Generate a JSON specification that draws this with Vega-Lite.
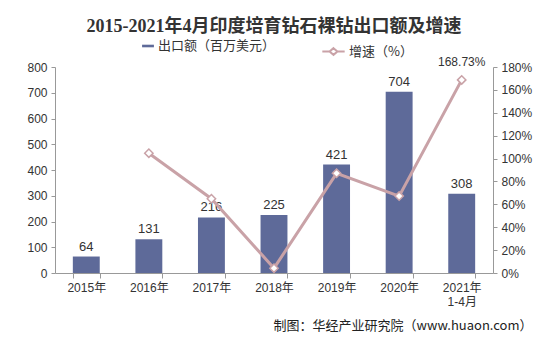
{
  "$schema": "https://vega.github.io/schema/vega-lite/v6.json",
  "autosize": {"type": "none"},
  "width": 438,
  "height": 206,
  "padding": {"left": 55, "top": 67, "right": 44, "bottom": 64},
  "background": "white",
  "title": {
    "text": "2015-2021年4月印度培育钻石裸钻出口额及增速",
    "font": "Liberation Serif, Noto Sans CJK SC",
    "fontSize": 18,
    "fontWeight": "bold",
    "color": "#333333",
    "anchor": "middle",
    "offset": 3
  },
  "config": {
    "view": {"stroke": null},
    "font": "Liberation Sans, Noto Sans CJK SC",
    "axis": {
      "labelFont": "Liberation Sans",
      "labelFontSize": 12,
      "labelColor": "#333333",
      "domainColor": "#999999",
      "tickColor": "#999999",
      "grid": false
    }
  },
  "data": {
    "values": [
      {"year": "2015年", "value": 64, "growth": null},
      {"year": "2016年", "value": 131, "growth": 104.7},
      {"year": "2017年", "value": 216, "growth": 64.9},
      {"year": "2018年", "value": 225, "growth": 4.2},
      {"year": "2019年", "value": 421, "growth": 87.1},
      {"year": "2020年", "value": 704, "growth": 67.2},
      {"year": "2021年 1-4月", "value": 308, "growth": 168.73}
    ]
  },
  "encoding": {
    "x": {
      "field": "year",
      "type": "nominal",
      "sort": null,
      "scale": {"paddingInner": 0.57, "paddingOuter": 0.285},
      "axis": {
        "labelAngle": 0,
        "labelFont": "Liberation Sans, Noto Sans CJK SC",
        "labelExpr": "split(datum.label, ' ')",
        "labelPadding": 4,
        "tickBand": "extent",
        "tickSize": 5,
        "title": "制图：华经产业研究院（www.huaon.com）",
        "titleFont": "Noto Sans CJK SC",
        "titleFontSize": 13,
        "titleFontWeight": "normal",
        "titleColor": "#222222",
        "titleAlign": "right",
        "titleBaseline": "alphabetic",
        "titleAnchor": null,
        "titleX": 477,
        "titleY": 56
      }
    }
  },
  "layer": [
    {
      "encoding": {
        "y": {
          "field": "value",
          "type": "quantitative",
          "scale": {"domain": [0, 800], "nice": false},
          "axis": {
            "values": [0, 100, 200, 300, 400, 500, 600, 700, 800],
            "labelOverlap": false,
            "labelSeparation": 0,
            "title": null,
            "tickSize": 4,
            "labelPadding": 4
          }
        }
      },
      "layer": [
        {
          "mark": {"type": "bar"},
          "encoding": {
            "fill": {
              "datum": "出口额（百万美元）",
              "type": "nominal",
              "scale": {"range": ["#5e6a99"]},
              "legend": {
                "orient": "none",
                "legendX": 86,
                "legendY": -28,
                "title": null,
                "symbolType": "M-1,-0.22L1,-0.22L1,0.22L-1,0.22Z",
                "symbolSize": 140,
                "labelFont": "Noto Sans CJK SC",
                "labelFontSize": 13,
                "labelColor": "#333333",
                "labelOffset": 3
              }
            }
          }
        },
        {
          "mark": {"type": "text", "dy": -10, "fontSize": 13, "color": "#333333", "font": "Liberation Sans"},
          "encoding": {
            "text": {"field": "value", "type": "quantitative"}
          }
        }
      ]
    },
    {
      "transform": [{"filter": "datum.growth != null"}],
      "encoding": {
        "y": {
          "field": "growth",
          "type": "quantitative",
          "scale": {"domain": [0, 180], "nice": false},
          "axis": {
            "orient": "right",
            "values": [0, 20, 40, 60, 80, 100, 120, 140, 160, 180],
            "labelOverlap": false,
            "labelSeparation": 0,
            "labelExpr": "datum.value + '%'",
            "title": null,
            "tickSize": 4,
            "labelPadding": 4
          }
        }
      },
      "layer": [
        {
          "mark": {"type": "line", "strokeWidth": 3},
          "encoding": {
            "stroke": {
              "datum": "增速（%）",
              "type": "nominal",
              "scale": {"range": ["#c9a2a7"]},
              "legend": {
                "orient": "none",
                "legendX": 266,
                "legendY": -28,
                "title": null,
                "symbolType": "M-1,0L-0.35,0M0.35,0L1,0M0,-0.3L0.35,0L0,0.3L-0.35,0Z",
                "symbolSize": 500,
                "symbolStrokeWidth": 2,
                "symbolFillColor": "white",
                "labelFont": "Noto Sans CJK SC",
                "labelFontSize": 13,
                "labelColor": "#333333",
                "labelOffset": 3
              }
            }
          }
        },
        {
          "mark": {"type": "point", "shape": "diamond", "filled": true, "fill": "white", "stroke": "#c9a2a7", "strokeWidth": 1.5, "size": 70, "opacity": 1},
          "encoding": {}
        },
        {
          "transform": [
            {"filter": "datum.growth > 150"},
            {"calculate": "format(datum.growth, '.2f') + '%'", "as": "glabel"}
          ],
          "mark": {"type": "text", "dy": -18, "fontSize": 12, "color": "#333333", "font": "Liberation Sans"},
          "encoding": {
            "text": {"field": "glabel", "type": "nominal"}
          }
        }
      ]
    }
  ],
  "resolve": {"scale": {"y": "independent"}}
}
